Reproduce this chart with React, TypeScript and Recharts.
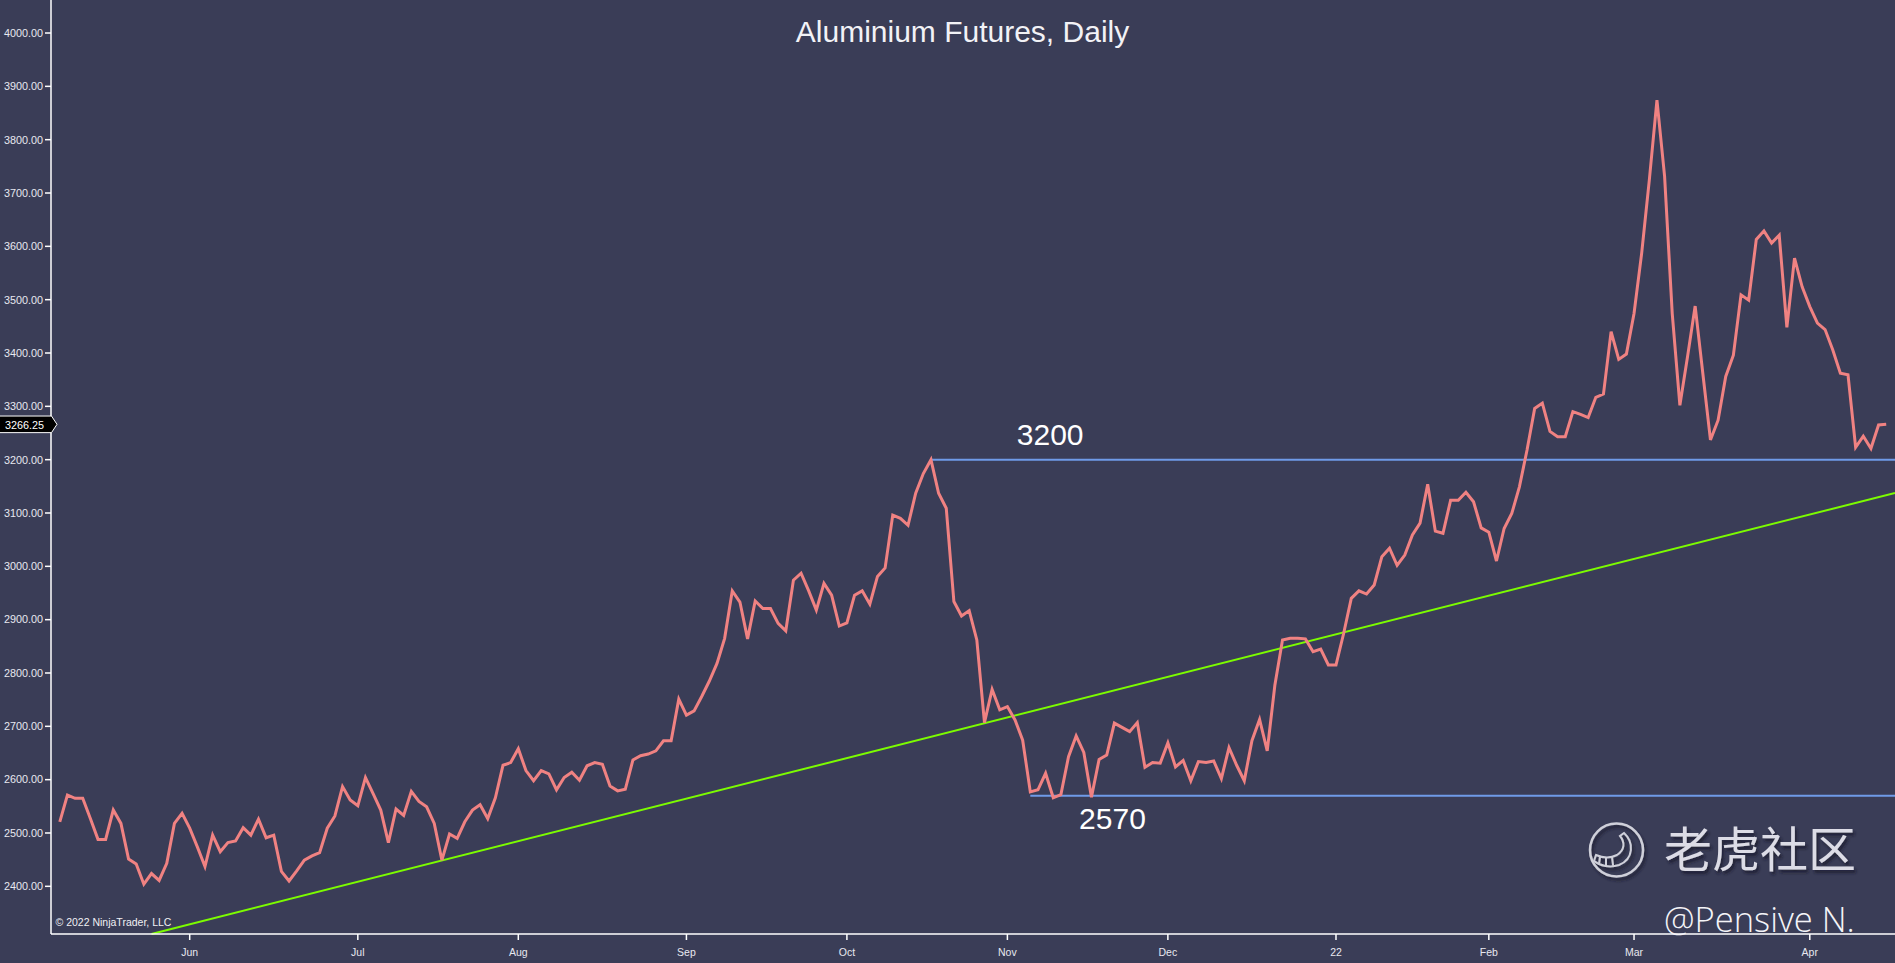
import React from 'react';
import { LineChart, Line, XAxis, YAxis, ReferenceLine, ReferenceDot } from 'recharts';

// Daily closes (trading-day index 0..239)
const closes = [
  2521, 2571, 2565, 2565, 2527, 2488, 2488, 2543, 2518, 2451, 2442, 2404, 2424, 2411, 2443, 2518, 2537,
  2509, 2474, 2437, 2496, 2465, 2482, 2485, 2510, 2496, 2526, 2491, 2496, 2428, 2410, 2429, 2449, 2457,
  2463, 2509, 2532, 2587, 2562, 2551, 2604, 2574, 2543, 2482, 2545, 2533, 2578, 2559, 2549, 2518, 2449,
  2498, 2490, 2521, 2543, 2553, 2527, 2566, 2627, 2632, 2658,
  2617, 2598, 2617, 2611, 2581, 2604, 2614, 2599, 2626, 2632, 2629, 2588, 2579, 2582, 2637, 2645, 2648,
  2654, 2673, 2673, 2751, 2721, 2729, 2756, 2785, 2818, 2865, 2954, 2933, 2864, 2935, 2921, 2921, 2893,
  2879, 2974, 2987, 2954, 2918, 2968, 2946, 2888, 2894, 2946, 2954, 2929, 2981, 2997, 3096, 3090, 3077,
  3137, 3174, 3200, 3137, 3109, 2934, 2907, 2917,
  2862, 2707, 2769, 2731, 2737, 2712, 2674, 2577, 2581, 2612, 2566, 2572, 2643, 2682, 2651, 2567, 2638,
  2646, 2706, 2698, 2690, 2707, 2623, 2632, 2631, 2669, 2624, 2636, 2598, 2634, 2632, 2635, 2602, 2660,
  2627, 2598, 2673, 2713, 2654, 2777, 2862, 2865, 2865, 2864, 2840, 2845, 2815, 2815, 2874, 2940, 2954,
  2948, 2965, 3018, 3034, 3002, 3021, 3059, 3081,
  3154, 3066, 3062, 3124, 3124, 3139, 3121, 3072, 3064, 3010, 3071, 3099, 3149, 3218, 3296, 3306, 3253,
  3243, 3243, 3290, 3285, 3279, 3317, 3323, 3440, 3388, 3398, 3474, 3587, 3724, 3874, 3731, 3474, 3302,
  3393, 3488, 3362, 3237, 3274, 3356, 3396, 3509, 3499, 3613, 3629, 3606, 3621, 3448, 3578, 3524, 3487,
  3456, 3444, 3406, 3362, 3359, 3223, 3244, 3221, 3265, 3266.25,
];

const monthTicks = [17, 39, 60, 82, 103, 124, 145, 167, 187, 206, 229];
const monthLabels = ['Jun', 'Jul', 'Aug', 'Sep', 'Oct', 'Nov', 'Dec', '22', 'Feb', 'Mar', 'Apr'];
const priceTicks = [2400, 2500, 2600, 2700, 2800, 2900, 3000, 3100, 3200, 3300, 3400, 3500, 3600, 3700, 3800, 3900, 4000];

const xDomain = [-1.15, 240.15];
const yDomain = [2310.6, 4061.9];

// Trend line anchors (index, price)
const trendX = [12, 240.15];
const trendY = [2310.6, 3137.5];

// Horizontal levels
const levelValues = [3200, 2570];
const levelStarts = [114, 127];
const levelLabelX = [129.6, 137.75];
const levelLabelDy = [-15, 33];

const lastPrice = 3266.25;
const title = 'Aluminium Futures, Daily';

const BG = '#3a3d57';
const TXT = '#e8e8f0';
const FONT = 'Liberation Sans, Arial, sans-serif';

const data = closes.map((c, i) => ({ i, c }));

export default function App() {
  return (
    <div style={{ position: 'fixed', left: 0, top: 0, width: 1895, height: 963, background: BG, overflow: 'hidden', fontFamily: FONT }}>
      <LineChart width={1895} height={963} data={data} margin={{ top: 0, right: 0, bottom: 0, left: 0 }}>
        <XAxis
          dataKey="i"
          type="number"
          domain={xDomain}
          allowDataOverflow
          ticks={monthTicks}
          interval={0}
          tickFormatter={(v) => monthLabels[monthTicks.indexOf(v)] ?? ''}
          height={29}
          stroke="#ffffff"
          strokeWidth={1.5}
          tickSize={6}
          tickMargin={9}
          tick={{ fill: TXT, fontSize: 10.5, fontFamily: FONT }}
        />
        <YAxis
          type="number"
          domain={yDomain}
          allowDataOverflow
          ticks={priceTicks}
          interval={0}
          tickFormatter={(v) => Number(v).toFixed(2)}
          width={51}
          stroke="#ffffff"
          strokeWidth={1.5}
          tickSize={6}
          tickMargin={2}
          tick={{ fill: TXT, fontSize: 10.8, fontFamily: FONT }}
        />
        <ReferenceLine
          segment={[{ x: trendX[0], y: trendY[0] }, { x: trendX[1], y: trendY[1] }]}
          stroke="#7cfc00"
          strokeWidth={2}
          ifOverflow="visible"
        />
        {levelValues.map((v, k) => (
          <ReferenceLine
            key={'lv' + k}
            segment={[{ x: levelStarts[k], y: v }, { x: xDomain[1], y: v }]}
            stroke="#6f9be8"
            strokeWidth={2}
            ifOverflow="visible"
          />
        ))}
        <Line
          type="linear"
          dataKey="c"
          stroke="#f08282"
          strokeWidth={3}
          dot={false}
          activeDot={false}
          isAnimationActive={false}
        />
        {levelValues.map((v, k) => (
          <ReferenceDot
            key={'lbl' + k}
            x={levelLabelX[k]}
            y={v}
            r={0}
            ifOverflow="visible"
            shape={(p: any) => (
              <text x={p.cx} y={p.cy + levelLabelDy[k]} textAnchor="middle" fill="#ffffff" fontSize={30} fontFamily={FONT}>
                {String(v)}
              </text>
            )}
          />
        ))}
        <ReferenceDot
          x={xDomain[0]}
          y={lastPrice}
          r={0}
          ifOverflow="visible"
          shape={(p: any) => (
            <g>
              <polygon
                points={`${p.cx - 52},${p.cy - 8.3} ${p.cx + 0.5},${p.cy - 8.3} ${p.cx + 6},${p.cy} ${p.cx + 0.5},${p.cy + 8.3} ${p.cx - 52},${p.cy + 8.3}`}
                fill="#000000"
                stroke="#ffffff"
                strokeWidth={1}
              />
              <text x={p.cx - 46} y={p.cy + 4.3} fill="#ffffff" fontSize={10.8} fontFamily={FONT}>
                {lastPrice.toFixed(2)}
              </text>
            </g>
          )}
        />
      </LineChart>

      <svg width={1895} height={963} style={{ position: 'absolute', left: 0, top: 0, pointerEvents: 'none' }}>
        <defs>
          <filter id="wmshadow" x="-10%" y="-10%" width="130%" height="140%">
            <feDropShadow dx="2" dy="3" stdDeviation="1.5" floodColor="#15172a" floodOpacity="0.8" />
          </filter>
        </defs>
        <text x={962.5} y={41.5} textAnchor="middle" fill="#f2f2f6" fontSize={30} fontFamily={FONT}>
          {title}
        </text>
        <text x={55.5} y={926} fill="#f0f0f4" fontSize={10.5} fontFamily={FONT}>
          © 2022 NinjaTrader, LLC
        </text>
        <g filter="url(#wmshadow)" stroke="#cfd0da" fill="none" strokeWidth={2.5} strokeLinecap="round">
          <circle cx={1616.5} cy={850} r={26.5} />
          <path d="M 1624 833 C 1634 842, 1634 859, 1619 865 C 1610 868, 1600 866, 1594 861 L 1596 855 C 1603 858, 1611 858, 1617 855 C 1625 850, 1625 842, 1620 836 Z" strokeWidth={2} />
          <line x1={1600} y1={857} x2={1599} y2={864} strokeWidth={2} />
          <line x1={1606} y1={858} x2={1606} y2={866} strokeWidth={2} />
          <line x1={1612} y1={857} x2={1613} y2={865} strokeWidth={2} />
        </g>
        <text x={1664} y={867} fill="#dcdce6" fontSize={48} fontFamily="Noto Sans CJK SC" filter="url(#wmshadow)">
          老虎社区
        </text>
        <text x={1664} y={932} fill="#f4f4f8" fontSize={34.5} fontWeight={300} fontFamily="Open Sans, Noto Sans, sans-serif">
          @Pensive N.
        </text>
      </svg>
    </div>
  );
}
